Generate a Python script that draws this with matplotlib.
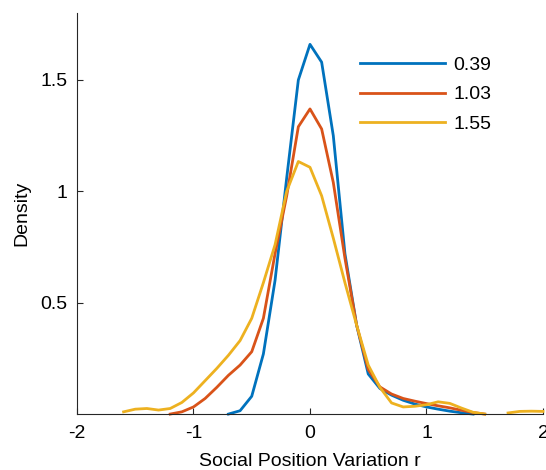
import numpy as np
import matplotlib
matplotlib.use('Agg')
import matplotlib.pyplot as plt
from matplotlib.ticker import FormatStrFormatter

plt.rcParams['font.family'] = ['Liberation Sans', 'DejaVu Sans']

# density estimates sampled on a 0.1 grid of r
r = np.round(np.arange(-1.7, 2.0001, 0.1), 1)
nan = np.nan

dens_039 = [nan, nan, nan, nan, nan, nan, nan, nan, nan, nan,
            0.0, 0.015, 0.08, 0.27, 0.60, 1.06, 1.50,
            1.66, 1.58, 1.25, 0.72, 0.40, 0.18, 0.115, 0.085, 0.062, 0.045,
            0.032, 0.022, 0.013, 0.006, 0.0, nan, nan, nan, nan, nan, nan]
dens_103 = [nan, nan, nan, nan, nan, 0.0, 0.01, 0.032, 0.07, 0.12,
            0.174, 0.22, 0.28, 0.43, 0.72, 0.98, 1.29,
            1.37, 1.28, 1.04, 0.70, 0.40, 0.20, 0.122, 0.09, 0.07, 0.058,
            0.047, 0.037, 0.028, 0.017, 0.007, 0.0, nan, nan, nan, nan, nan]
dens_155 = [nan, 0.01, 0.022, 0.025, 0.018, 0.025, 0.052, 0.095, 0.15, 0.205,
            0.264, 0.33, 0.43, 0.59, 0.76, 1.0, 1.134,
            1.108, 0.98, 0.79, 0.59, 0.40, 0.22, 0.12, 0.05, 0.032, 0.035,
            0.042, 0.055, 0.048, 0.027, 0.008, 0.0, nan, 0.005, 0.012, 0.013, 0.012]

series = [('0.39', dens_039, '#0072BD'),
          ('1.03', dens_103, '#D95319'),
          ('1.55', dens_155, '#EDB120')]

fig = plt.figure(figsize=(5.46, 4.70), dpi=100)
ax = fig.add_axes([0.141, 0.119, 0.8535, 0.853])

for label, y, color in series:
    ax.plot(r, y, color=color, lw=2.0, label=label, clip_on=False)

ax.set_xlim(-2, 2)
ax.set_ylim(0, 1.8)
ax.set_xticks([-2, -1, 0, 1, 2])
ax.set_yticks([0.5, 1, 1.5])
ax.xaxis.set_major_formatter(FormatStrFormatter('%g'))
ax.yaxis.set_major_formatter(FormatStrFormatter('%g'))

for side in ['top', 'right']:
    ax.spines[side].set_visible(False)
for side in ['left', 'bottom']:
    ax.spines[side].set_color('#262626')
    ax.spines[side].set_linewidth(0.8)
ax.tick_params(direction='in', length=4, width=0.8, color='#262626',
               labelsize=14, labelcolor='black')
ax.tick_params(axis='x', pad=8)
ax.tick_params(axis='y', pad=7)

ax.set_xlabel('Social Position Variation r', fontsize=14, labelpad=8)
ax.set_ylabel('Density', fontsize=14, labelpad=7)

ax.legend(loc='upper left', bbox_to_anchor=(0.607, 0.893), frameon=False,
          fontsize=14, handlelength=4.4, handletextpad=0.4,
          labelspacing=0.62, borderpad=0, borderaxespad=0)

fig.savefig('out.png', dpi=100)
